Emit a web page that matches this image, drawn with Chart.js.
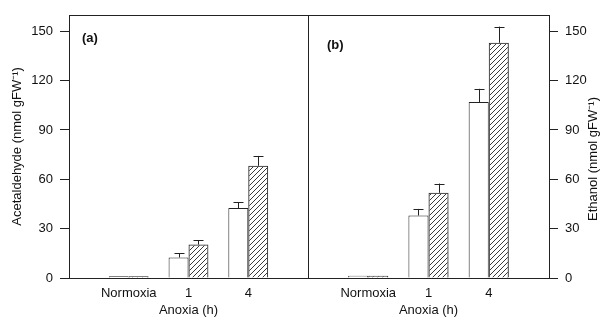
<!DOCTYPE html>
<html>
<head>
<meta charset="utf-8">
<script src="https://cdn.jsdelivr.net/npm/chart.js@4"></script>
<style>
  body { margin: 0; background: #fff; }
  .wrap { position: relative; width: 602px; height: 322px; }
  canvas { position: absolute; top: 0; }
</style>
</head>
<body>
<div class="wrap">
  <canvas id="chartA" width="316" height="322" style="left:0"></canvas>
  <canvas id="chartB" width="302" height="322" style="left:300px"></canvas>
</div>
<script>
// data
const categories = ['Normoxia', '1', '4'];
const yTicks = [0, 30, 60, 90, 120, 150];

const acetControl = [1.0, 12.5, 42.5];
const acetControlErr = [0, 2.4, 3.4];
const acetTreated = [1.0, 20.3, 68.2];
const acetTreatedErr = [0, 2.6, 6.0];

const ethControl = [1.4, 38.0, 107.0];
const ethControlErr = [0, 4.0, 8.0];
const ethTreated = [1.4, 51.8, 143.0];
const ethTreatedErr = [0, 5.6, 9.8];

const FONT = "'Liberation Sans', Arial, sans-serif";
// empty slots at both ends so the groups sit at 1/4, 2/4, 3/4 of the panel
const labels = ['', ...categories, ''];
const pad = arr => [null, ...arr, null];

function hatch() {
  const c = document.createElement('canvas');
  c.width = 5; c.height = 5;
  const g = c.getContext('2d');
  g.strokeStyle = '#3a3a3a';
  g.lineWidth = 1;
  g.beginPath();
  g.moveTo(-1, 6); g.lineTo(6, -1);
  g.moveTo(-1, 1); g.lineTo(1, -1);
  g.moveTo(4, 6); g.lineTo(6, 4);
  g.stroke();
  return document.getElementById('chartA').getContext('2d').createPattern(c, 'repeat');
}
const hatchPattern = hatch();

const errorBars = {
  id: 'errorBars',
  afterDatasetsDraw(chart) {
    const ctx = chart.ctx;
    const y = chart.scales.y;
    ctx.save();
    ctx.strokeStyle = '#222';
    ctx.lineWidth = 1;
    chart.data.datasets.forEach((ds, i) => {
      chart.getDatasetMeta(i).data.forEach((bar, j) => {
        const v = ds.data[j], e = ds.err[j];
        if (v == null || !e) return;
        const top = y.getPixelForValue(v + e);
        const x = Math.round(bar.x) + 0.5;
        ctx.beginPath();
        ctx.moveTo(x, bar.y);
        ctx.lineTo(x, top);
        ctx.moveTo(x - 5, Math.round(top) + 0.5);
        ctx.lineTo(x + 5, Math.round(top) + 0.5);
        ctx.stroke();
      });
    });
    ctx.restore();
  }
};

const frame = {
  id: 'frame',
  afterDraw(chart, args, opts) {
    const {ctx, chartArea: a} = chart;
    ctx.save();
    ctx.strokeStyle = '#222';
    ctx.lineWidth = 1;
    ctx.strokeRect(Math.round(a.left) + 0.5, Math.round(a.top) + 0.5,
      Math.round(a.right - a.left), Math.round(a.bottom - a.top));
    ctx.fillStyle = '#111';
    ctx.font = 'bold 13px ' + FONT;
    ctx.textBaseline = 'middle';
    ctx.fillText(opts.tag, opts.tagX, opts.tagY);
    if (opts.sideTitle) {
      ctx.font = '13px ' + FONT;
      ctx.textAlign = 'center';
      ctx.translate(opts.sideX, opts.sideY);
      ctx.rotate(-Math.PI / 2);
      ctx.fillText(opts.sideTitle, 0, 0);
    }
    ctx.restore();
  }
};

function makeChart(id, control, controlErr, treated, treatedErr, side, frameOpts) {
  const left = side === 'left';
  return new Chart(document.getElementById(id), {
    type: 'bar',
    data: {
      labels: labels,
      datasets: [
        { data: pad(control), err: pad(controlErr), backgroundColor: '#fff',
          borderColor: '#222', borderWidth: 1 },
        { data: pad(treated), err: pad(treatedErr), backgroundColor: hatchPattern,
          borderColor: '#222', borderWidth: 1 }
      ]
    },
    options: {
      responsive: false,
      animation: false,
      layout: { padding: left ? { top: 14, right: 2 } : { top: 14, left: 8 } },
      datasets: { bar: { categoryPercentage: 2 / 3, barPercentage: 1 } },
      plugins: { legend: { display: false }, tooltip: { enabled: false }, frame: frameOpts },
      scales: {
        x: {
          offset: false,
          grid: { display: false, drawTicks: false },
          border: { display: false },
          ticks: { color: '#111', font: { family: FONT, size: 13 }, padding: 8, maxRotation: 0 },
          title: { display: true, text: 'Anoxia (h)', color: '#111',
                   font: { family: FONT, size: 13 }, padding: { top: 0, bottom: 4 } },
          afterFit: s => { s.height = 44; }
        },
        y: {
          position: side,
          min: 0, max: 160,
          afterBuildTicks: s => { s.ticks = yTicks.map(v => ({ value: v })); },
          grid: { drawOnChartArea: false, tickLength: 9, color: '#222' },
          border: { display: false },
          ticks: { color: '#111', font: { family: FONT, size: 13 }, padding: 7 },
          title: { display: left, text: 'Acetaldehyde (nmol gFW\u207B\u00B9)', color: '#111',
                   font: { family: FONT, size: 13 }, padding: { top: 10, bottom: 0 } },
          afterFit: s => { s.width = left ? 69 : 53; }
        }
      }
    },
    plugins: [errorBars, frame]
  });
}

makeChart('chartA', acetControl, acetControlErr, acetTreated, acetTreatedErr, 'left',
  { tag: '(a)', tagX: 82, tagY: 38 });
makeChart('chartB', ethControl, ethControlErr, ethTreated, ethTreatedErr, 'right',
  { tag: '(b)', tagX: 27, tagY: 45, sideTitle: 'Ethanol (nmol gFW\u207B\u00B9)', sideX: 293, sideY: 159 });
</script>
</body>
</html>
